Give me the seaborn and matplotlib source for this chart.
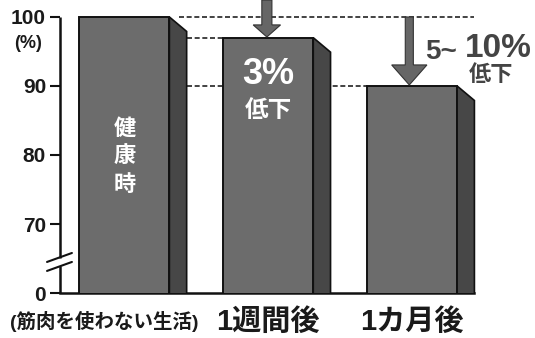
import matplotlib
matplotlib.use("Agg")
import matplotlib.pyplot as plt
import seaborn as sns
import pandas as pd
from matplotlib.patches import Polygon
from matplotlib.transforms import ScaledTranslation

categories = ["(筋肉を使わない生活)", "1週間後", "1カ月後"]
values = [100, 97, 90]
ytick_vals = [60, 70, 80, 90, 100]
ytick_labels = ["0", "70", "80", "90", "100"]

sns.set_style("white")
plt.rcParams['font.family'] = ['Liberation Sans', 'Noto Sans CJK JP', 'DejaVu Sans']

df = pd.DataFrame({"cat": categories, "val": values})

fig = plt.figure(figsize=(5.35, 3.38), dpi=100)
ax = fig.add_axes([0.1121, 0.1331, 0.888, 0.8669])

front = "#6c6c6c"
side = "#474747"
sns.barplot(data=df, x="cat", y="val", color=front, width=0.625,
            edgecolor="#111111", linewidth=1.4, saturation=1, ax=ax, zorder=3)

ax.set_xlim(-0.448, 2.854)
ax.set_ylim(60, 102.46)

# 3D side faces derived from bar geometry
depth = 0.12
bevel = 2.1
for p in ax.patches:
    x0, w, h = p.get_x(), p.get_width(), p.get_height()
    poly = Polygon([(x0 + w, 59), (x0 + w, h), (x0 + w + depth, h - bevel),
                    (x0 + w + depth, 59)], closed=True, facecolor=side,
                   edgecolor="#111111", linewidth=1.2, zorder=3)
    ax.add_patch(poly)

right_end = max(p.get_x() + p.get_width() for p in ax.patches[:3]) + depth

# dashed guide lines
dash = dict(color="#222222", linewidth=1.2, linestyles=(0, (3, 1.6)), zorder=2)
b0 = ax.patches[0].get_x() + ax.patches[0].get_width() + depth
ax.hlines(values[0], b0 - 0.05, right_end, **dash)
ax.hlines(values[1], b0, ax.patches[1].get_x(), **dash)
ax.hlines(values[2], b0, ax.patches[2].get_x(), **dash)

# arrows
ax.arrow(1 - 0.01, 102.46, 0, -(102.46 - values[1]) + 0.1, width=0.07, head_width=0.19,
         head_length=1.75, length_includes_head=True, facecolor="#666666",
         edgecolor="#333333", linewidth=0.8, zorder=4, clip_on=False)
ax.arrow(1.98, values[0], 0, -(values[0] - values[2]) + 0.15, width=0.056, head_width=0.245,
         head_length=2.9, length_includes_head=True, facecolor="#666666",
         edgecolor="#333333", linewidth=0.8, zorder=4)

# spines
sns.despine(ax=ax, left=True, top=True, right=True)
ax.spines['bottom'].set_bounds(-0.448, right_end)
ax.spines['bottom'].set_linewidth(1.8)
ax.spines['bottom'].set_color("#111111")
yt = ax.get_yaxis_transform()
ax.plot([0, 0], [60, 63.9], color="#111111", lw=1.8, transform=yt, clip_on=False, solid_capstyle='butt')
ax.plot([0, 0], [65.1, 100], color="#111111", lw=1.8, transform=yt, clip_on=False, solid_capstyle='butt')
ax.plot([-0.538, -0.365], [64.5, 65.8], color="#111111", lw=1.5, clip_on=False)
ax.plot([-0.538, -0.365], [63.2, 64.5], color="#111111", lw=1.5, clip_on=False)

ax.set_yticks(ytick_vals)
ax.set_yticklabels(ytick_labels, fontsize=15, fontweight='bold', color="#1a1a1a")
ax.tick_params(axis='y', direction='out', length=7, width=1.5, color="#111111", pad=3, left=True)
ax.tick_params(axis='x', length=0, pad=11)
ax.set_xticks(range(len(categories)))
ax.set_xticklabels(categories, fontweight='bold', color="#1a1a1a")
for i, t in enumerate(ax.get_xticklabels()):
    t.set_fontsize(14 if i == 0 else 21)
    if i == 0:
        t.set_transform(t.get_transform() + ScaledTranslation(-0.2, -0.03, fig.dpi_scale_trans))
ax.set_xlabel("")
ax.set_ylabel("")

fig.text(28 / 535, 1 - 44 / 338, "(%)", fontsize=13, fontweight='bold',
         ha='center', va='center', color="#1a1a1a", family='Liberation Sans')

# annotations
ax.text(0, 79.6, "健\n康\n時", fontsize=16, fontweight='bold', color="white",
        ha='center', va='center', linespacing=1.45, zorder=5)
ax.text(1, 91.6, "3%", fontsize=26, fontweight='bold', color="white",
        ha='center', va='center', zorder=5)
ax.text(1, 86.4, "低下", fontsize=17, fontweight='bold', color="white",
        ha='center', va='center', zorder=5)
ax.text(2.2, 94.9, "5~", fontsize=20, fontweight='bold', color="#444444",
        ha='center', va='center', zorder=5)
ax.text(2.6, 95.5, "10%", fontsize=24, fontweight='bold', color="#444444",
        ha='center', va='center', zorder=5)
ax.text(2.55, 91.45, "低下", fontsize=16, fontweight='bold', color="#444444",
        ha='center', va='center', zorder=5)

fig.savefig("out.png", dpi=100)
